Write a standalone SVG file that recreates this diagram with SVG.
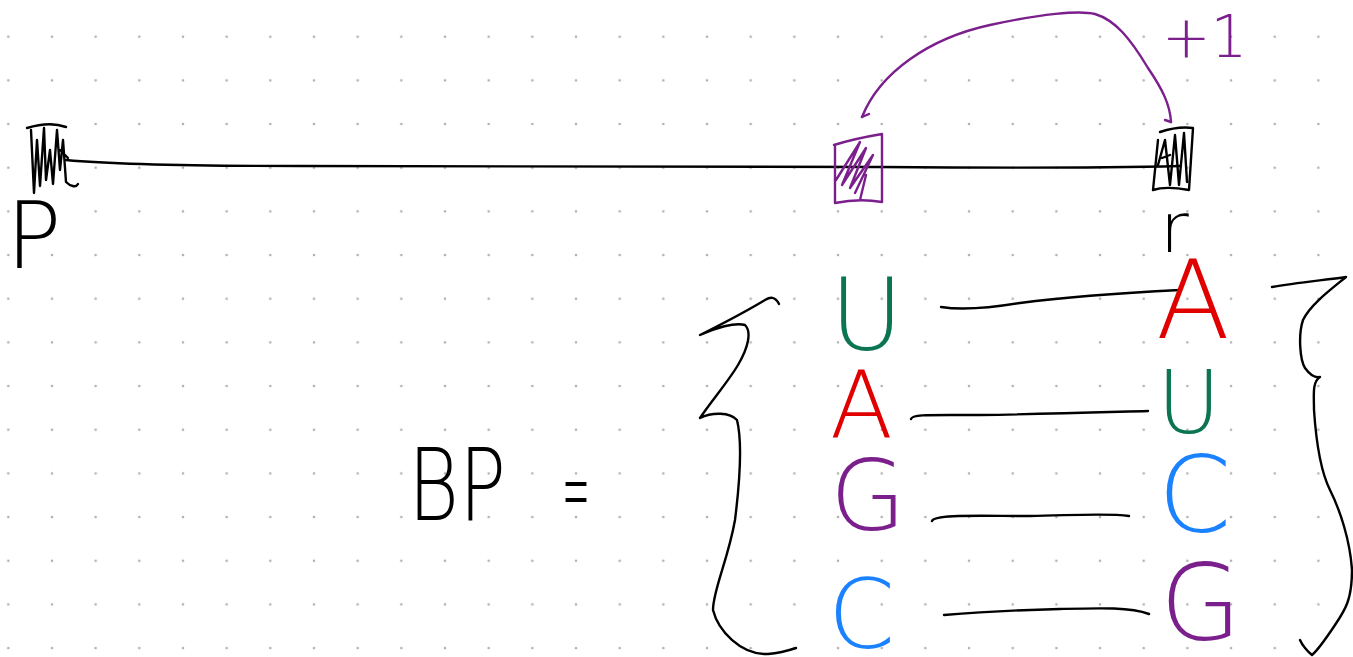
<svg xmlns="http://www.w3.org/2000/svg" width="1353" height="657" viewBox="0 0 1353 657">
  <defs>
    <pattern id="dots" x="8.3" y="36.7" width="43.67" height="43.67" patternUnits="userSpaceOnUse">
      <circle cx="0" cy="0" r="1.3" fill="#b0b0b0"/>
      <circle cx="43.67" cy="0" r="1.3" fill="#b0b0b0"/>
      <circle cx="0" cy="43.67" r="1.3" fill="#b0b0b0"/>
      <circle cx="43.67" cy="43.67" r="1.3" fill="#b0b0b0"/>
    </pattern>
    <style>
      .ink { fill: none; stroke: #000; stroke-width: 2.4; stroke-linecap: round; stroke-linejoin: round; }
      .pur { fill: none; stroke: #7b1f8c; stroke-width: 2.4; stroke-linecap: round; stroke-linejoin: round; }
      .hand { font-family: "DejaVu Sans", "Liberation Sans", sans-serif; font-weight: 200; }
      .green { fill: #0b7553; }
      .red { fill: #e00000; }
      .purple { fill: #7b1f8c; }
      .blue { fill: #1a82ff; }
      .black { fill: #000; }
    </style>
  </defs>

  <rect width="1353" height="657" fill="#fff"/>
  <rect width="1353" height="657" fill="url(#dots)"/>

  <!-- strand and links -->
  <g id="connectors">
    <path class="ink" d="M66,160 C120,165 200,166 300,166 C500,167 700,167 880,167 C1000,168 1100,168 1180,166"/>
    <!-- +1 arc between positions -->
    <path class="pur" d="M862,117 C880,72 930,38 990,25 C1040,14 1080,10 1095,14 C1115,20 1130,38 1148,68 C1163,90 1170,105 1171,122"/>
    <path class="pur" d="M862,117 L869,114"/>
    <path class="pur" d="M1171,122 L1165,120"/>
    <!-- pair bonds -->
    <path class="ink" d="M941,307 C960,310 990,308 1020,303 C1080,295 1140,292 1180,290"/>
    <path class="ink" d="M911,419 C912,414 930,415 980,415 C1050,414 1110,412 1148,411"/>
    <path class="ink" d="M932,521 C934,514 980,516 1030,516 C1080,515 1110,513 1129,516"/>
    <path class="ink" d="M944,615 C980,612 1020,610 1060,609 C1100,608 1130,607 1149,614"/>
  </g>

  <!-- position p -->
  <g id="node-p">
    <path class="ink" stroke-width="2.8" d="M27,128 C40,124 55,123 66,127 M31,130 L34,193 L37,140 L40,186 L44,128 L46,180 L50,150 L53,184 L57,130 L60,170 L63,140 L66,182 C70,186 76,188 78,184 M60,150 L68,158"/>
    <text class="hand black" x="6" y="268" font-size="92">P</text>
  </g>

  <!-- position i -->
  <g id="node-i">
    <path class="pur" d="M834,145 C850,140 870,136 882,134 L882,202 C870,200 855,199 835,203 L835,146 M836,180 L860,142 L842,185 L866,148 L850,188 L873,155 L855,193 M866,175 L860,200"/>
  </g>

  <!-- position j -->
  <g id="node-j">
    <path class="ink" d="M1160,132 C1172,128 1185,127 1193,128 L1189,190 C1178,188 1165,186 1153,190 L1158,140 M1158,165 L1165,140 L1170,185 L1175,135 L1179,185 L1184,133 L1187,182 M1162,158 L1170,155"/>
    <text class="hand black" x="1160" y="252" font-size="70">r</text>
  </g>

  <text class="hand purple" x="1162" y="57" font-size="58">+1</text>

  <!-- base pair set -->
  <g id="label-bp">
    <text class="hand black" x="408" y="520" font-size="100" textLength="98" lengthAdjust="spacingAndGlyphs">BP</text>
    <text class="hand black" x="562" y="523" font-size="100" textLength="28" lengthAdjust="spacingAndGlyphs">=</text>
  </g>

  <g id="brace-left">
    <path class="ink" d="M779,304 C775,296 770,297 765,300 C745,312 720,325 700,335 C715,328 735,322 745,325 C752,332 748,348 738,365 C728,382 712,400 700,418 C712,412 730,412 737,420 C742,440 740,480 735,520 C728,560 713,590 713,610 C718,630 740,655 768,654 C780,653 790,650 796,648"/>
  </g>

  <g id="brace-right">
    <path class="ink" d="M1272,287 C1295,283 1325,280 1346,277 C1330,290 1310,305 1303,320 C1298,335 1300,360 1305,368 C1310,375 1315,378 1320,377 C1312,382 1314,395 1314,410 C1316,440 1320,470 1330,490 C1340,510 1350,540 1352,570 C1352,600 1345,610 1335,625 C1325,640 1318,650 1312,655 C1308,652 1302,645 1300,640"/>
  </g>

  <g id="bases-left">
    <text class="hand green" x="830" y="350" font-size="100">U</text>
    <text class="hand red" x="830" y="437" font-size="92">A</text>
    <text class="hand purple" x="830" y="530" font-size="98">G</text>
    <text class="hand blue" x="828" y="648" font-size="96">C</text>
  </g>

  <g id="bases-right">
    <text class="hand red" x="1156" y="338" font-size="108">A</text>
    <text class="hand green" x="1157" y="433" font-size="87">U</text>
    <text class="hand blue" x="1158" y="532" font-size="105">C</text>
    <text class="hand purple" x="1160" y="640" font-size="105">G</text>
  </g>
</svg>
